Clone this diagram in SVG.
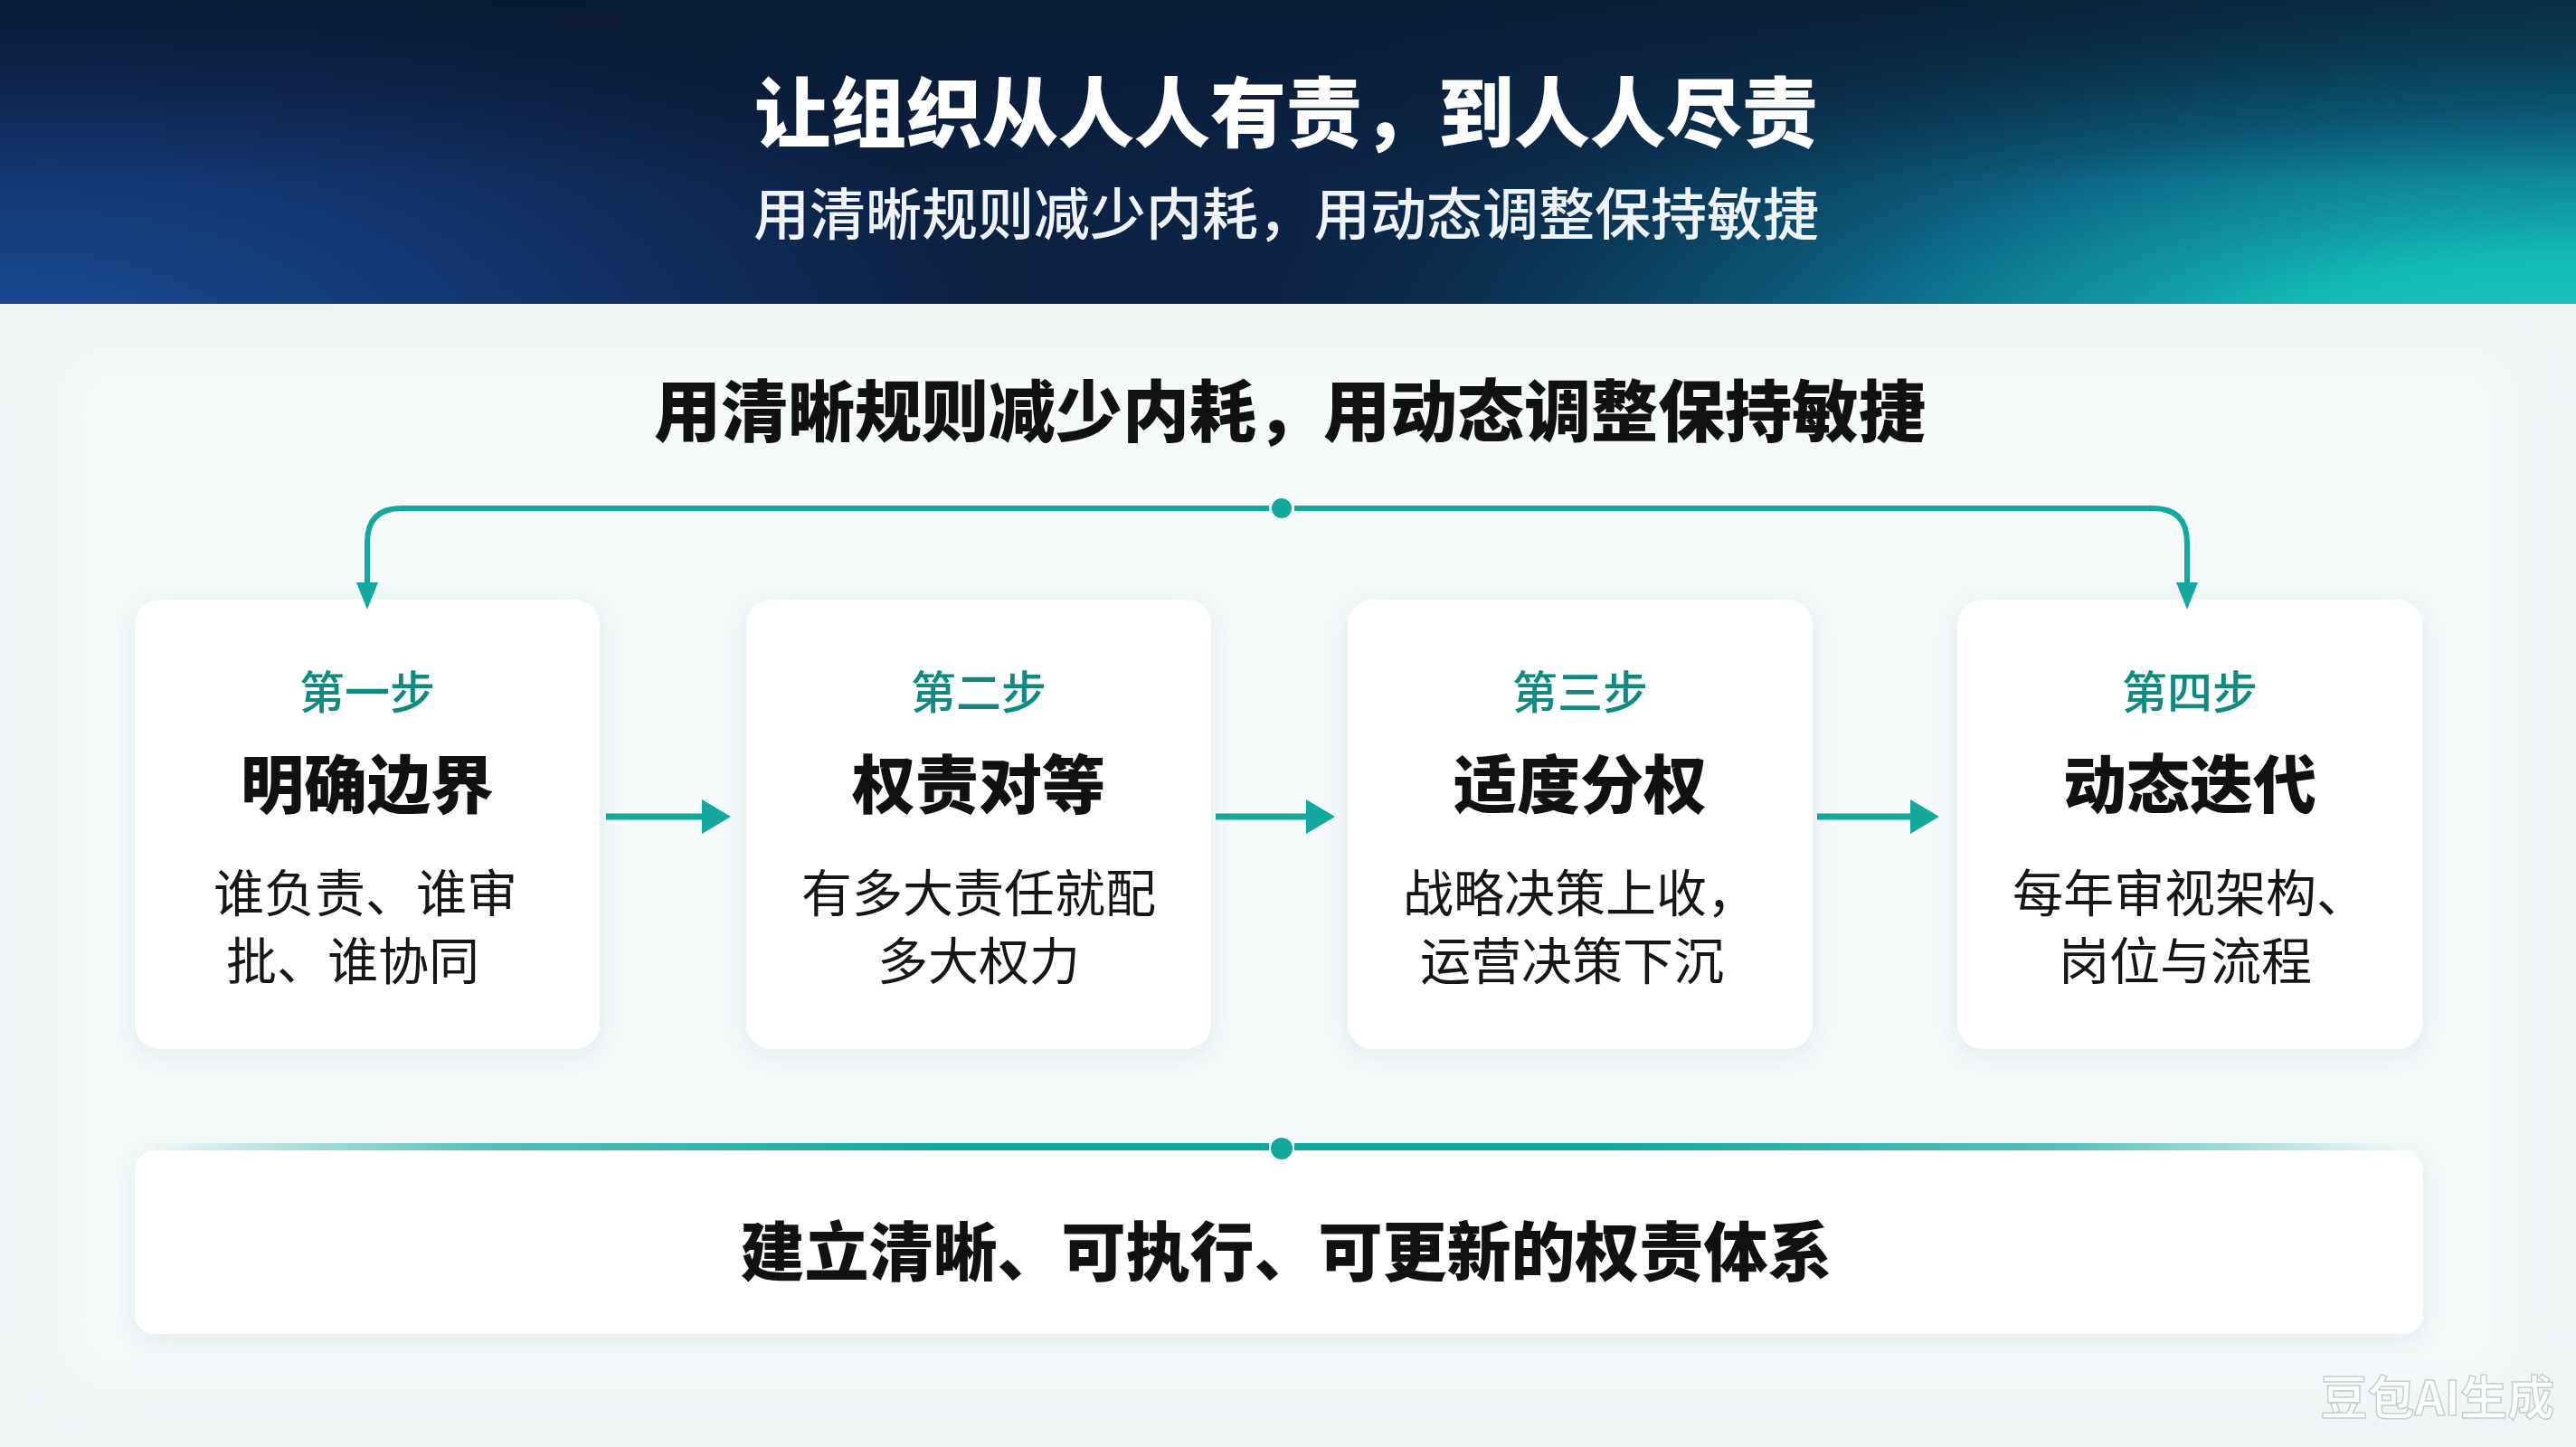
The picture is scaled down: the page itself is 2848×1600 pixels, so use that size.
<svg xmlns="http://www.w3.org/2000/svg" width="2848" height="1600" viewBox="0 0 2848 1600">
  <defs>
    <linearGradient id="hdr" x1="0" y1="0" x2="2848" y2="336" gradientUnits="userSpaceOnUse">
      <stop offset="0" stop-color="#0b1c3a"/>
      <stop offset="0.5" stop-color="#0b2446"/>
      <stop offset="0.8" stop-color="#0b3450"/>
      <stop offset="1" stop-color="#0c4a60"/>
    </linearGradient>
    <radialGradient id="hdrBlue" cx="0" cy="380" r="1100" gradientUnits="userSpaceOnUse" gradientTransform="translate(0 380) scale(1 0.4) translate(0 -380)">
      <stop offset="0" stop-color="#1a4ea0" stop-opacity="0.95"/>
      <stop offset="1" stop-color="#1a4ea0" stop-opacity="0"/>
    </radialGradient>
    <radialGradient id="hdrTeal" cx="2848" cy="400" r="1500" gradientUnits="userSpaceOnUse" gradientTransform="translate(2848 400) scale(1 0.32) translate(-2848 -400)">
      <stop offset="0" stop-color="#16cdc4"/>
      <stop offset="0.25" stop-color="#13b8b6"/>
      <stop offset="0.55" stop-color="#0d7492" stop-opacity="0.8"/>
      <stop offset="1" stop-color="#0b2446" stop-opacity="0"/>
    </radialGradient>
    <linearGradient id="hdrTop" x1="0" y1="0" x2="0" y2="1">
      <stop offset="0" stop-color="#061226" stop-opacity="0.45"/>
      <stop offset="0.6" stop-color="#061226" stop-opacity="0"/>
    </linearGradient>
    <linearGradient id="fadeLine" x1="163" y1="0" x2="2652" y2="0" gradientUnits="userSpaceOnUse">
      <stop offset="0" stop-color="#13a89e" stop-opacity="0"/>
      <stop offset="0.15" stop-color="#13a89e" stop-opacity="0.7"/>
      <stop offset="0.35" stop-color="#13a89e"/>
      <stop offset="0.65" stop-color="#13a89e"/>
      <stop offset="0.85" stop-color="#13a89e" stop-opacity="0.7"/>
      <stop offset="1" stop-color="#13a89e" stop-opacity="0"/>
    </linearGradient>
    <filter id="shadow" x="-20%" y="-20%" width="140%" height="140%">
      <feDropShadow dx="0" dy="6" stdDeviation="14" flood-color="#3c5a66" flood-opacity="0.10"/>
    </filter>
    <filter id="soft" x="-10%" y="-10%" width="120%" height="120%">
      <feGaussianBlur stdDeviation="30"/>
    </filter>
    <style>
      .cjk { font-family: "Noto Sans CJK SC", "Noto Sans", sans-serif; }
      .title { font-size: 84px; font-weight: 900; fill: #ffffff; }
      .sub { font-size: 62px; font-weight: 500; fill: #eef4fa; }
      .heading { font-size: 74px; font-weight: 900; fill: #111111; }
      .step { font-size: 50px; font-weight: 500; fill: #0e8a80; }
      .name { font-size: 70px; font-weight: 900; fill: #111111; }
      .desc { font-size: 56px; font-weight: 400; fill: #161616; }
      .footer { font-size: 71px; font-weight: 900; fill: #111111; }
      .card { fill: #ffffff; filter: url(#shadow); }
      .conn { fill: none; stroke: #13a89e; stroke-width: 6; }
      .arr { fill: none; stroke: #13a89e; stroke-width: 7; }
      .head { fill: #13a89e; }
      .wm { font-size: 52px; font-weight: 700; fill: #ffffff; stroke: #c8cdd0; stroke-width: 1.5; }
    </style>
  </defs>

  <!-- background -->
  <rect x="0" y="0" width="2848" height="1600" fill="#eef3f4"/>
  <rect x="60" y="380" width="2728" height="1160" rx="40" fill="#f7fafb" filter="url(#soft)"/>

  <!-- header -->
  <g id="header">
    <rect x="0" y="0" width="2848" height="336" fill="url(#hdr)"/>
    <rect x="0" y="0" width="2848" height="336" fill="url(#hdrBlue)"/>
    <rect x="0" y="0" width="2848" height="336" fill="url(#hdrTeal)"/>
    <rect x="0" y="0" width="2848" height="336" fill="url(#hdrTop)"/>
    <text class="cjk title" x="1422" y="119" text-anchor="middle" dominant-baseline="central">让组织从人人有责，到人人尽责</text>
    <text class="cjk sub" x="1422" y="233" text-anchor="middle" dominant-baseline="central">用清晰规则减少内耗，用动态调整保持敏捷</text>
  </g>

  <g id="section-heading">
    <text class="cjk heading" x="1426" y="449" text-anchor="middle" dominant-baseline="central">用清晰规则减少内耗，用动态调整保持敏捷</text>
  </g>

  <!-- cards -->
  <g id="step1">
    <rect class="card" x="149" y="663" width="514" height="497" rx="28"/>
    <text class="cjk step" x="406" y="762" text-anchor="middle" dominant-baseline="central">第一步</text>
    <text class="cjk name" x="406" y="863" text-anchor="middle" dominant-baseline="central">明确边界</text>
    <text class="cjk desc" x="404" y="983" text-anchor="middle" dominant-baseline="central">谁负责、谁审</text>
    <text class="cjk desc" x="390" y="1058" text-anchor="middle" dominant-baseline="central">批、谁协同</text>
  </g>
  <g id="step2">
    <rect class="card" x="825" y="663" width="514" height="497" rx="28"/>
    <text class="cjk step" x="1082" y="762" text-anchor="middle" dominant-baseline="central">第二步</text>
    <text class="cjk name" x="1082" y="863" text-anchor="middle" dominant-baseline="central">权责对等</text>
    <text class="cjk desc" x="1082" y="983" text-anchor="middle" dominant-baseline="central">有多大责任就配</text>
    <text class="cjk desc" x="1082" y="1058" text-anchor="middle" dominant-baseline="central">多大权力</text>
  </g>
  <g id="step3">
    <rect class="card" x="1490" y="663" width="514" height="497" rx="28"/>
    <text class="cjk step" x="1747" y="762" text-anchor="middle" dominant-baseline="central">第三步</text>
    <text class="cjk name" x="1747" y="863" text-anchor="middle" dominant-baseline="central">适度分权</text>
    <text class="cjk desc" x="1747" y="983" text-anchor="middle" dominant-baseline="central">战略决策上收，</text>
    <text class="cjk desc" x="1738" y="1058" text-anchor="middle" dominant-baseline="central">运营决策下沉</text>
  </g>
  <g id="step4">
    <rect class="card" x="2164" y="663" width="514" height="497" rx="28"/>
    <text class="cjk step" x="2421" y="762" text-anchor="middle" dominant-baseline="central">第四步</text>
    <text class="cjk name" x="2421" y="863" text-anchor="middle" dominant-baseline="central">动态迭代</text>
    <text class="cjk desc" x="2421" y="983" text-anchor="middle" dominant-baseline="central">每年审视架构、</text>
    <text class="cjk desc" x="2416" y="1058" text-anchor="middle" dominant-baseline="central">岗位与流程</text>
  </g>

  <g id="summary">
    <rect class="card" x="149" y="1272" width="2530" height="203" rx="22"/>
    <text class="cjk footer" x="1422" y="1379" text-anchor="middle" dominant-baseline="central">建立清晰、可执行、可更新的权责体系</text>
  </g>

  <!-- connectors -->
  <g id="connectors">
    <path class="conn" d="M 406 648 V 600 Q 406 562 444 562 H 1403"/>
    <path class="conn" d="M 1431 562 H 2380 Q 2418 562 2418 600 V 648"/>
    <circle class="head" cx="1417" cy="562" r="11"/>
    <polygon class="head" points="394,644 418,644 406,674"/>
    <polygon class="head" points="2406,644 2430,644 2418,674"/>

    <line class="arr" x1="670" y1="903" x2="782" y2="903"/>
    <polygon class="head" points="776,884 808,903 776,922"/>
    <line class="arr" x1="1344" y1="903" x2="1452" y2="903"/>
    <polygon class="head" points="1444,884 1476,903 1444,922"/>
    <line class="arr" x1="2009" y1="903" x2="2120" y2="903"/>
    <polygon class="head" points="2112,884 2144,903 2112,922"/>

    <rect x="163" y="1264" width="1240" height="8" fill="url(#fadeLine)"/>
    <rect x="1431" y="1264" width="1221" height="8" fill="url(#fadeLine)"/>
    <circle class="head" cx="1417" cy="1270" r="12"/>
  </g>

  <text class="cjk wm" x="2824" y="1542" text-anchor="end" dominant-baseline="central">豆包AI生成</text>
</svg>
